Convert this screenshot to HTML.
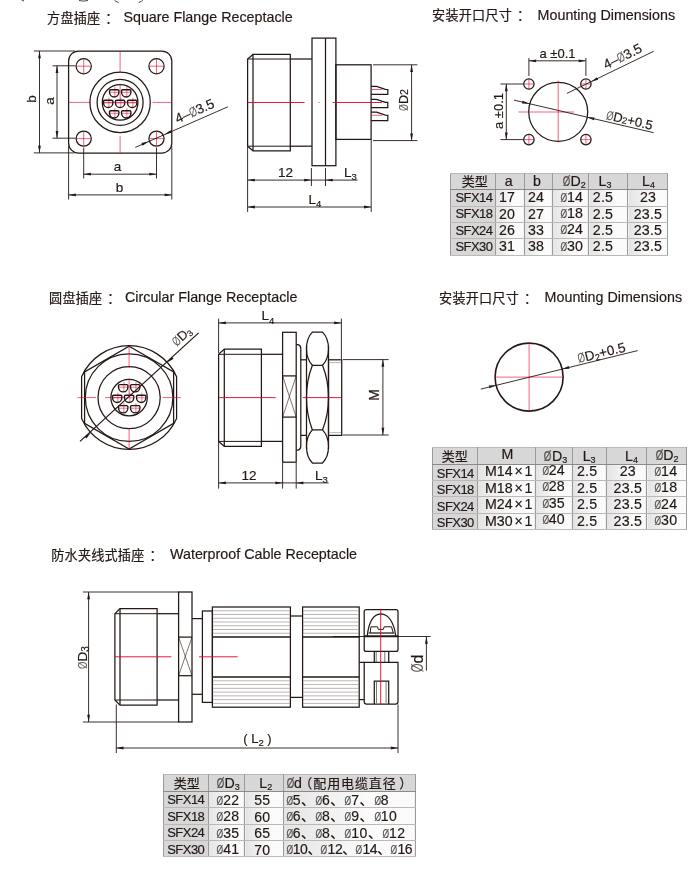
<!DOCTYPE html>
<html lang="zh"><head><meta charset="utf-8"><title>SFX Receptacle Dimensions</title>
<style>
html,body{margin:0;padding:0;background:#fff;}
body{width:700px;height:873px;position:relative;overflow:hidden;font-family:"Liberation Sans","Noto Sans CJK SC",sans-serif;color:#231815;}
svg{position:absolute;left:0;top:0;will-change:transform;}
.k{fill:none;stroke:#231815;stroke-width:1.25;}
.kp{fill:none;stroke:#231815;stroke-width:1.4;}
.k9{fill:none;stroke:#231815;stroke-width:1;}
.k2{fill:none;stroke:#231815;stroke-width:1.6;}
.k3{fill:none;stroke:#231815;stroke-width:2;}
.k15{fill:none;stroke:#231815;stroke-width:1.3;}
.kt{fill:none;stroke:#231815;stroke-width:.6;}
.t{fill:none;stroke:#231815;stroke-width:.9;}
.g{fill:none;stroke:#8a8583;stroke-width:.6;}
.r{fill:none;stroke:#e60026;stroke-width:.9;}
.rh{fill:none;stroke:#e6002d;stroke-width:.62;}
.rt{fill:none;stroke:#e6002d;stroke-width:.55;}
.a{fill:#231815;stroke:none;}
.tc{font-family:"Liberation Sans","Noto Sans CJK SC",sans-serif;fill:#231815;font-weight:400;stroke:#231815;stroke-width:.2;}
.fr{fill:none;stroke:#4a4644;stroke-width:1;}
.tx{font-family:"Liberation Sans","Noto Sans CJK SC",sans-serif;fill:#231815;font-weight:500;stroke:#231815;stroke-width:.18;}
.os{fill:#5a5553;stroke:none;}
.h{position:absolute;white-space:nowrap;font-size:13px;line-height:16px;color:#231815;}
.h .cn{font-size:13px;letter-spacing:.2px;}
.tb{will-change:transform;position:absolute;border-collapse:collapse;table-layout:fixed;font-size:13px;color:#231815;-webkit-text-stroke:.18px #231815;border:1px solid #7d7d7d;}
.tb th,.tb td{border:1px solid #9b9b9b;border-top-color:#b9b9b9;border-bottom-color:#b9b9b9;padding:0;text-align:center;font-weight:normal;line-height:14px;white-space:nowrap;overflow:visible;}
.tb tr:first-child th{border-bottom-color:#8a8a8a;font-size:14.2px;line-height:13px;}
.tb tr:first-child th.c0{font-size:13px;}
.tb td .o{font-size:12.5px;}
.tb th{background:#d7d7d7;}
.tb td{background:linear-gradient(90deg,#e4e4e4,#fbfbfb 65%);letter-spacing:.2px;font-size:14.2px;padding-bottom:1.6px;line-height:12px;}
.tb span{position:relative;}
.tb .c0{letter-spacing:-.55px;}
.tb tr:first-child .c0{letter-spacing:0;}
.tb sub{font-size:9px;vertical-align:-2px;line-height:0;}
.tb .o{display:inline-block;transform:scaleX(.68);color:#5a5553;margin:0 -1.6px;letter-spacing:0;}
.t2 td.c1{letter-spacing:0;word-spacing:-2.2px;}
.t3 .c3{text-align:left;padding-left:2.5px;letter-spacing:.5px;}
.t3 td{font-size:14px;}
.t3 th{font-size:13.5px;}
.t3 .c0{font-size:13px;}
.cj{letter-spacing:.9px;font-size:13px;margin-left:-3px;}
.cp{margin-left:2.5px;}
.t3 tr:last-child .c3{letter-spacing:-.4px;}
</style></head><body>
<svg width="700" height="873" viewBox="0 0 700 873">
<rect class="k" x="68.6" y="51" width="103.2" height="102.1" rx="10"/>
<circle class="k" cx="83.7" cy="66.2" r="7.6"/>
<line class="rh" x1="76.7" y1="66.2" x2="90.7" y2="66.2"/>
<line class="rh" x1="83.7" y1="59.2" x2="83.7" y2="73.2"/>
<circle class="k" cx="83.7" cy="138.6" r="7.6"/>
<line class="rh" x1="76.7" y1="138.6" x2="90.7" y2="138.6"/>
<line class="rh" x1="83.7" y1="131.6" x2="83.7" y2="145.6"/>
<circle class="k" cx="156.5" cy="66.2" r="7.6"/>
<line class="rh" x1="149.5" y1="66.2" x2="163.5" y2="66.2"/>
<line class="rh" x1="156.5" y1="59.2" x2="156.5" y2="73.2"/>
<circle class="k" cx="156.5" cy="138.6" r="7.6"/>
<line class="rh" x1="149.5" y1="138.6" x2="163.5" y2="138.6"/>
<line class="rh" x1="156.5" y1="131.6" x2="156.5" y2="145.6"/>
<circle class="k" cx="120.1" cy="102.4" r="30.2"/>
<circle class="k" cx="120.1" cy="102.4" r="23"/>
<circle class="k" cx="120.1" cy="102.4" r="17.8"/>
<line class="rh" x1="68.6" y1="102.4" x2="91" y2="102.4"/>
<line class="rh" x1="102.5" y1="102.4" x2="137.5" y2="102.4"/>
<line class="rh" x1="152.5" y1="102.4" x2="171.8" y2="102.4"/>
<line class="rh" x1="120.1" y1="51" x2="120.1" y2="73"/>
<line class="rh" x1="120.1" y1="85" x2="120.1" y2="100"/>
<line class="rh" x1="120.1" y1="136" x2="120.1" y2="152.9"/>
<g transform="translate(114.2 93)"><line class="rt" x1="0.7" y1="-5.88" x2="0.7" y2="3.76"/><line class="rt" x1="-4.46" y1="-0.7" x2="4.46" y2="-0.7"/><path class="kp" d="M-3.5,-3.29 L3.5,-3.29 Q4.7,-3.29 4.7,-2.09 L4.7,-0.94 A4.7,4.89 0 0 1 -4.7,-0.94 L-4.7,-2.09 Q-4.7,-3.29 -3.5,-3.29 Z"/></g>
<g transform="translate(126.2 93)"><line class="rt" x1="0.7" y1="-5.88" x2="0.7" y2="3.76"/><line class="rt" x1="-4.46" y1="-0.7" x2="4.46" y2="-0.7"/><path class="kp" d="M-3.5,-3.29 L3.5,-3.29 Q4.7,-3.29 4.7,-2.09 L4.7,-0.94 A4.7,4.89 0 0 1 -4.7,-0.94 L-4.7,-2.09 Q-4.7,-3.29 -3.5,-3.29 Z"/></g>
<g transform="translate(108.2 103.6)"><line class="rt" x1="0.7" y1="-5.88" x2="0.7" y2="3.76"/><line class="rt" x1="-4.46" y1="-0.7" x2="4.46" y2="-0.7"/><path class="kp" d="M-3.5,-3.29 L3.5,-3.29 Q4.7,-3.29 4.7,-2.09 L4.7,-0.94 A4.7,4.89 0 0 1 -4.7,-0.94 L-4.7,-2.09 Q-4.7,-3.29 -3.5,-3.29 Z"/></g>
<g transform="translate(120.1 103.6)"><line class="rt" x1="0.7" y1="-5.88" x2="0.7" y2="3.76"/><line class="rt" x1="-4.46" y1="-0.7" x2="4.46" y2="-0.7"/><path class="kp" d="M-3.5,-3.29 L3.5,-3.29 Q4.7,-3.29 4.7,-2.09 L4.7,-0.94 A4.7,4.89 0 0 1 -4.7,-0.94 L-4.7,-2.09 Q-4.7,-3.29 -3.5,-3.29 Z"/></g>
<g transform="translate(132.2 103.6)"><line class="rt" x1="0.7" y1="-5.88" x2="0.7" y2="3.76"/><line class="rt" x1="-4.46" y1="-0.7" x2="4.46" y2="-0.7"/><path class="kp" d="M-3.5,-3.29 L3.5,-3.29 Q4.7,-3.29 4.7,-2.09 L4.7,-0.94 A4.7,4.89 0 0 1 -4.7,-0.94 L-4.7,-2.09 Q-4.7,-3.29 -3.5,-3.29 Z"/></g>
<g transform="translate(114.2 114)"><line class="rt" x1="0.7" y1="-5.88" x2="0.7" y2="3.76"/><line class="rt" x1="-4.46" y1="-0.7" x2="4.46" y2="-0.7"/><path class="kp" d="M-3.5,-3.29 L3.5,-3.29 Q4.7,-3.29 4.7,-2.09 L4.7,-0.94 A4.7,4.89 0 0 1 -4.7,-0.94 L-4.7,-2.09 Q-4.7,-3.29 -3.5,-3.29 Z"/></g>
<g transform="translate(126.2 114)"><line class="rt" x1="0.7" y1="-5.88" x2="0.7" y2="3.76"/><line class="rt" x1="-4.46" y1="-0.7" x2="4.46" y2="-0.7"/><path class="kp" d="M-3.5,-3.29 L3.5,-3.29 Q4.7,-3.29 4.7,-2.09 L4.7,-0.94 A4.7,4.89 0 0 1 -4.7,-0.94 L-4.7,-2.09 Q-4.7,-3.29 -3.5,-3.29 Z"/></g>
<line class="t" x1="33.8" y1="51" x2="75" y2="51"/>
<line class="t" x1="33.8" y1="152.9" x2="75" y2="152.9"/>
<line class="t" x1="39.5" y1="51" x2="39.5" y2="152.9"/>
<polygon class="a" points="39.5,51 40.9,58.2 38.1,58.2"/>
<polygon class="a" points="39.5,152.9 38.1,145.7 40.9,145.7"/>
<line class="t" x1="52.5" y1="65.8" x2="75.5" y2="65.8"/>
<line class="t" x1="52.5" y1="138.2" x2="75.5" y2="138.2"/>
<line class="t" x1="57" y1="65.8" x2="57" y2="138.2"/>
<polygon class="a" points="57,65.8 58.4,73 55.6,73"/>
<polygon class="a" points="57,138.2 55.6,131 58.4,131"/>
<text class="tx" x="36" y="99" font-size="13.5" text-anchor="middle" transform="rotate(-90 36 99)">b</text>
<text class="tx" x="54" y="101" font-size="13.5" text-anchor="middle" transform="rotate(-90 54 101)">a</text>
<line class="t" x1="83.7" y1="147.5" x2="83.7" y2="178.5"/>
<line class="t" x1="156.5" y1="147.5" x2="156.5" y2="178.5"/>
<line class="t" x1="83.7" y1="174.2" x2="156.5" y2="174.2"/>
<polygon class="a" points="83.7,174.2 90.9,172.8 90.9,175.6"/>
<polygon class="a" points="156.5,174.2 149.3,175.6 149.3,172.8"/>
<line class="t" x1="68.6" y1="146" x2="68.6" y2="199.5"/>
<line class="t" x1="171.8" y1="146" x2="171.8" y2="199.5"/>
<line class="t" x1="68.6" y1="194.9" x2="171.8" y2="194.9"/>
<polygon class="a" points="68.6,194.9 75.8,193.5 75.8,196.3"/>
<polygon class="a" points="171.8,194.9 164.6,196.3 164.6,193.5"/>
<text class="tx" x="117.5" y="170.5" font-size="13.5" text-anchor="middle">a</text>
<text class="tx" x="119.5" y="191.5" font-size="13.5" text-anchor="middle">b</text>
<line class="t" x1="135.3" y1="147.4" x2="227.9" y2="106.8"/>
<polygon class="a" points="148.6,141.5 142.57,145.67 141.44,143.11"/>
<polygon class="a" points="164.4,134.4 170.43,130.23 171.56,132.79"/>
<text class="tx" x="196.5" y="115.3" font-size="13.5" text-anchor="middle" transform="rotate(-23.67 196.5 115.3)">4–<tspan class="os" textLength="7.43" lengthAdjust="spacingAndGlyphs">Ø</tspan>3.5</text>
<path class="k" d="M253,54.4 L290.3,54.4 L290.3,150.8 L253,150.8 L247.6,146.2 L247.6,59 Z"/>
<line class="k" x1="253" y1="54.4" x2="253" y2="150.8"/>
<line class="k9" x1="247.6" y1="59" x2="290.3" y2="59"/>
<line class="k9" x1="247.6" y1="146.2" x2="290.3" y2="146.2"/>
<line class="k" x1="290.3" y1="59" x2="312" y2="59"/>
<line class="k" x1="290.3" y1="146.2" x2="312" y2="146.2"/>
<rect class="k" x="312" y="38.1" width="23.9" height="127.6"/>
<line class="k" x1="325.5" y1="38.1" x2="325.5" y2="165.7"/>
<rect class="k" x="335.9" y="64.8" width="35.2" height="74.6"/>
<path class="k" d="M371.1,86.4 L376.6,86.4 L385.3,89.4 L387.8,89.5 L387.8,94.4 L371.1,94.4"/>
<line class="rh" x1="371.5" y1="89.5" x2="382" y2="89.5"/>
<path class="k" d="M371.1,99.3 L376.6,99.3 L385.3,102.3 L387.8,102.39999999999999 L387.8,107.6 L371.1,107.6"/>
<path class="k" d="M371.1,112.2 L376.6,112.2 L385.3,115.2 L387.8,115.3 L387.8,120.5 L371.1,120.5"/>
<line class="rh" x1="371.5" y1="115.3" x2="382" y2="115.3"/>
<line class="r" x1="247.6" y1="102.5" x2="304.6" y2="102.5"/>
<line class="r" x1="318.5" y1="102.5" x2="319.5" y2="102.5"/>
<line class="r" x1="332.6" y1="102.5" x2="382" y2="102.5"/>
<line class="t" x1="373" y1="64.8" x2="417.4" y2="64.8"/>
<line class="t" x1="373" y1="140.6" x2="417.4" y2="140.6"/>
<line class="t" x1="411.6" y1="64.8" x2="411.6" y2="140.6"/>
<polygon class="a" points="411.6,64.8 413,72 410.2,72"/>
<polygon class="a" points="411.6,140.6 410.2,133.4 413,133.4"/>
<text class="tx" x="408.3" y="100" font-size="12.5" text-anchor="middle" transform="rotate(-90 408.3 100)"><tspan class="os" textLength="6.88" lengthAdjust="spacingAndGlyphs">Ø</tspan>D<tspan font-size="10.5">2</tspan></text>
<line class="t" x1="247.6" y1="147" x2="247.6" y2="211.9"/>
<line class="t" x1="311.4" y1="168" x2="311.4" y2="186"/>
<line class="t" x1="325.5" y1="168" x2="325.5" y2="186"/>
<line class="t" x1="371.2" y1="140" x2="371.2" y2="211.9"/>
<line class="t" x1="247.6" y1="180.1" x2="311.4" y2="180.1"/>
<polygon class="a" points="247.6,180.1 254.8,178.7 254.8,181.5"/>
<polygon class="a" points="311.4,180.1 304.2,181.5 304.2,178.7"/>
<line class="t" x1="311.4" y1="180.1" x2="357.5" y2="180.1"/>
<polygon class="a" points="325.5,180.1 332.7,178.7 332.7,181.5"/>
<text class="tx" x="285.5" y="176.6" font-size="13.5" text-anchor="middle">12</text>
<text class="tx" x="344" y="176.6" font-size="13.5" text-anchor="start">L<tspan font-size="9.5" dy="3.3">3</tspan></text>
<line class="t" x1="247.6" y1="207" x2="371.2" y2="207"/>
<polygon class="a" points="247.6,207 254.8,205.6 254.8,208.4"/>
<polygon class="a" points="371.2,207 364,208.4 364,205.6"/>
<text class="tx" x="308.5" y="203.5" font-size="13.5" text-anchor="start">L<tspan font-size="9.5" dy="3.3">4</tspan></text>
<circle class="k" cx="558.2" cy="111.8" r="29.5"/>
<line class="rh" x1="558.2" y1="80.6" x2="558.2" y2="142.2"/>
<line class="rh" x1="518.5" y1="112" x2="574" y2="112"/>
<circle class="k" cx="528.9" cy="84" r="5.2"/>
<line class="rh" x1="523.9" y1="84" x2="533.9" y2="84"/>
<line class="rh" x1="528.9" y1="79" x2="528.9" y2="89"/>
<circle class="k" cx="528.9" cy="139.6" r="5.2"/>
<line class="rh" x1="523.9" y1="139.6" x2="533.9" y2="139.6"/>
<line class="rh" x1="528.9" y1="134.6" x2="528.9" y2="144.6"/>
<circle class="k" cx="585.9" cy="84" r="5.2"/>
<line class="rh" x1="580.9" y1="84" x2="590.9" y2="84"/>
<line class="rh" x1="585.9" y1="79" x2="585.9" y2="89"/>
<circle class="k" cx="585.9" cy="139.6" r="5.2"/>
<line class="rh" x1="580.9" y1="139.6" x2="590.9" y2="139.6"/>
<line class="rh" x1="585.9" y1="134.6" x2="585.9" y2="144.6"/>
<line class="t" x1="528.9" y1="58" x2="528.9" y2="76"/>
<line class="t" x1="585.9" y1="58" x2="585.9" y2="76"/>
<line class="t" x1="528.9" y1="60.8" x2="585.9" y2="60.8"/>
<polygon class="a" points="528.9,60.8 536.1,59.4 536.1,62.2"/>
<polygon class="a" points="585.9,60.8 578.7,62.2 578.7,59.4"/>
<text class="tx" x="557.5" y="58" font-size="13" text-anchor="middle">a ±0.1</text>
<line class="t" x1="500.4" y1="84" x2="523.5" y2="84"/>
<line class="t" x1="500.4" y1="139.6" x2="523.5" y2="139.6"/>
<line class="t" x1="506.3" y1="84" x2="506.3" y2="139.6"/>
<polygon class="a" points="506.3,84 507.7,91.2 504.9,91.2"/>
<polygon class="a" points="506.3,139.6 504.9,132.4 507.7,132.4"/>
<text class="tx" x="502.5" y="111" font-size="13" text-anchor="middle" transform="rotate(-90 502.5 111)">a ±0.1</text>
<line class="t" x1="566.9" y1="93.4" x2="653.7" y2="51.3"/>
<polygon class="a" points="591,81.7 596.87,77.3 598.09,79.82"/>
<text class="tx" x="624.5" y="60.5" font-size="13.5" text-anchor="middle" transform="rotate(-25.87 624.5 60.5)">4–<tspan class="os" textLength="7.43" lengthAdjust="spacingAndGlyphs">Ø</tspan>3.5</text>
<line class="t" x1="513.9" y1="100.1" x2="653.7" y2="132.7"/>
<polygon class="a" points="529.3,103.7 521.97,103.43 522.61,100.7"/>
<polygon class="a" points="587.2,117.2 594.53,117.47 593.89,120.2"/>
<text class="tx" x="628.5" y="124.5" font-size="13" text-anchor="middle" transform="rotate(13.13 628.5 124.5)"><tspan class="os" textLength="7.15" lengthAdjust="spacingAndGlyphs">Ø</tspan>D<tspan font-size="9">2</tspan>+0.5</text>
<path class="k" d="M81.6,376.69 A51.9,51.9 0 0 1 176.6,376.69 L176.6,418.51 A51.9,51.9 0 0 1 81.6,418.51 Z"/>
<polygon class="k" points="129.1,346.2 173.61,371.9 173.61,423.3 129.1,449 84.59,423.3 84.59,371.9"/>
<circle class="k" cx="129.1" cy="397.6" r="43.8"/>
<circle class="k" cx="129.1" cy="397.6" r="31.1"/>
<circle class="k" cx="129.1" cy="397.6" r="18.2"/>
<line class="rh" x1="129.1" y1="346.1" x2="129.1" y2="368"/>
<line class="rh" x1="129.1" y1="378.5" x2="129.1" y2="394.5"/>
<line class="rh" x1="129.1" y1="428" x2="129.1" y2="449"/>
<line class="rh" x1="77.5" y1="397.6" x2="96" y2="397.6"/>
<line class="rh" x1="105" y1="397.6" x2="124" y2="397.6"/>
<line class="rh" x1="162.5" y1="397.6" x2="181" y2="397.6"/>
<g transform="translate(123.2 387.9)"><line class="rt" x1="0.7" y1="-5.88" x2="0.7" y2="3.76"/><line class="rt" x1="-4.46" y1="-0.7" x2="4.46" y2="-0.7"/><path class="kp" d="M-3.5,-3.29 L3.5,-3.29 Q4.7,-3.29 4.7,-2.09 L4.7,-0.94 A4.7,4.89 0 0 1 -4.7,-0.94 L-4.7,-2.09 Q-4.7,-3.29 -3.5,-3.29 Z"/></g>
<g transform="translate(135.2 387.9)"><line class="rt" x1="0.7" y1="-5.88" x2="0.7" y2="3.76"/><line class="rt" x1="-4.46" y1="-0.7" x2="4.46" y2="-0.7"/><path class="kp" d="M-3.5,-3.29 L3.5,-3.29 Q4.7,-3.29 4.7,-2.09 L4.7,-0.94 A4.7,4.89 0 0 1 -4.7,-0.94 L-4.7,-2.09 Q-4.7,-3.29 -3.5,-3.29 Z"/></g>
<g transform="translate(117.2 398.5)"><line class="rt" x1="0.7" y1="-5.88" x2="0.7" y2="3.76"/><line class="rt" x1="-4.46" y1="-0.7" x2="4.46" y2="-0.7"/><path class="kp" d="M-3.5,-3.29 L3.5,-3.29 Q4.7,-3.29 4.7,-2.09 L4.7,-0.94 A4.7,4.89 0 0 1 -4.7,-0.94 L-4.7,-2.09 Q-4.7,-3.29 -3.5,-3.29 Z"/></g>
<g transform="translate(129.1 398.5)"><line class="rt" x1="0.7" y1="-5.88" x2="0.7" y2="3.76"/><line class="rt" x1="-4.46" y1="-0.7" x2="4.46" y2="-0.7"/><path class="kp" d="M-3.5,-3.29 L3.5,-3.29 Q4.7,-3.29 4.7,-2.09 L4.7,-0.94 A4.7,4.89 0 0 1 -4.7,-0.94 L-4.7,-2.09 Q-4.7,-3.29 -3.5,-3.29 Z"/></g>
<g transform="translate(141.2 398.5)"><line class="rt" x1="0.7" y1="-5.88" x2="0.7" y2="3.76"/><line class="rt" x1="-4.46" y1="-0.7" x2="4.46" y2="-0.7"/><path class="kp" d="M-3.5,-3.29 L3.5,-3.29 Q4.7,-3.29 4.7,-2.09 L4.7,-0.94 A4.7,4.89 0 0 1 -4.7,-0.94 L-4.7,-2.09 Q-4.7,-3.29 -3.5,-3.29 Z"/></g>
<g transform="translate(123.2 408.9)"><line class="rt" x1="0.7" y1="-5.88" x2="0.7" y2="3.76"/><line class="rt" x1="-4.46" y1="-0.7" x2="4.46" y2="-0.7"/><path class="kp" d="M-3.5,-3.29 L3.5,-3.29 Q4.7,-3.29 4.7,-2.09 L4.7,-0.94 A4.7,4.89 0 0 1 -4.7,-0.94 L-4.7,-2.09 Q-4.7,-3.29 -3.5,-3.29 Z"/></g>
<g transform="translate(135.2 408.9)"><line class="rt" x1="0.7" y1="-5.88" x2="0.7" y2="3.76"/><line class="rt" x1="-4.46" y1="-0.7" x2="4.46" y2="-0.7"/><path class="kp" d="M-3.5,-3.29 L3.5,-3.29 Q4.7,-3.29 4.7,-2.09 L4.7,-0.94 A4.7,4.89 0 0 1 -4.7,-0.94 L-4.7,-2.09 Q-4.7,-3.29 -3.5,-3.29 Z"/></g>
<line class="k" x1="80" y1="441.4" x2="198.6" y2="332.9"/>
<polygon class="a" points="167.39,362.57 171.76,356.68 173.65,358.74"/>
<polygon class="a" points="90.81,432.63 86.44,438.52 84.55,436.46"/>
<text class="tx" x="184.5" y="339.5" font-size="13" text-anchor="middle" transform="rotate(-42.45 184.5 339.5)"><tspan class="os" textLength="7.15" lengthAdjust="spacingAndGlyphs">Ø</tspan>D<tspan font-size="8.5" dy="2">3</tspan></text>
<path class="k" d="M224.3,349.1 L261.4,349.1 L261.4,446.3 L224.3,446.3 L218.6,441.4 L218.6,354.3 Z"/>
<line class="k" x1="224.3" y1="349.1" x2="224.3" y2="446.3"/>
<line class="k9" x1="218.6" y1="354.3" x2="261.4" y2="354.3"/>
<line class="k9" x1="218.6" y1="441.4" x2="261.4" y2="441.4"/>
<line class="k" x1="261.4" y1="354.3" x2="282.6" y2="354.3"/>
<line class="k" x1="261.4" y1="441.4" x2="282.6" y2="441.4"/>
<rect class="k" x="282.6" y="332.3" width="13.6" height="129.9"/>
<line class="k" x1="282.6" y1="375.9" x2="296.2" y2="375.9"/>
<line class="k" x1="282.6" y1="417.1" x2="296.2" y2="417.1"/>
<line class="kt" x1="282.6" y1="375.9" x2="296.2" y2="417.1"/>
<line class="kt" x1="296.2" y1="375.9" x2="282.6" y2="417.1"/>
<path class="k" d="M296.2,344.7 L298.3,344.7 Q300.8,345.5 300.8,349 L300.8,446 Q300.8,449.3 298.3,450.1 L296.2,450.1"/>
<line class="k" x1="300.8" y1="359.8" x2="306.5" y2="359.8"/>
<line class="k" x1="300.8" y1="435.4" x2="306.5" y2="435.4"/>
<line class="k" x1="306.5" y1="346" x2="306.5" y2="449.2"/>
<line class="k" x1="328.5" y1="346" x2="328.5" y2="449.2"/>
<path class="k" d="M312.4,332.1 C308.4,336.084 306.5,342.06 306.5,348.70000000000005 C306.5,355.34000000000003 309.2,361.98 312.4,365.3 L322.5,365.3 C325.7,361.98 328.5,355.34000000000003 328.5,348.70000000000005 C328.5,342.06 326.5,336.084 322.5,332.1 Z"/>
<path class="k" d="M312.4,463.0 C308.4,459.028 306.5,453.07 306.5,446.45000000000005 C306.5,439.83000000000004 309.2,433.21000000000004 312.4,429.90000000000003 L322.5,429.90000000000003 C325.7,433.21000000000004 328.5,439.83000000000004 328.5,446.45000000000005 C328.5,453.07 326.5,459.028 322.5,463.0 Z"/>
<path class="k" d="M312.4,365.3 C308.79999999999995,374.3 306.5,385.6 306.5,397.6 C306.5,409.6 308.79999999999995,420.90000000000003 312.4,429.90000000000003"/>
<path class="k" d="M322.5,365.3 C326.1,374.3 328.5,385.6 328.5,397.6 C328.5,409.6 326.1,420.90000000000003 322.5,429.90000000000003"/>
<rect class="k" x="328.5" y="359.8" width="13.2" height="75.6"/>
<line class="g" x1="329.6" y1="362.6" x2="340.8" y2="362.6"/>
<line class="g" x1="329.6" y1="432.6" x2="340.8" y2="432.6"/>
<line class="r" x1="218.6" y1="397.6" x2="275.7" y2="397.6"/>
<line class="r" x1="302.9" y1="397.6" x2="341.4" y2="397.6"/>
<line class="t" x1="218.6" y1="318.6" x2="218.6" y2="353"/>
<line class="t" x1="341.4" y1="318.6" x2="341.4" y2="359.4"/>
<line class="t" x1="218.6" y1="322.9" x2="341.4" y2="322.9"/>
<polygon class="a" points="218.6,322.9 225.8,321.5 225.8,324.3"/>
<polygon class="a" points="341.4,322.9 334.2,324.3 334.2,321.5"/>
<text class="tx" x="261.5" y="320.3" font-size="13.5" text-anchor="start">L<tspan font-size="9.5" dy="3.3">4</tspan></text>
<line class="t" x1="342.9" y1="359.6" x2="388.6" y2="359.6"/>
<line class="t" x1="342.9" y1="435" x2="388.6" y2="435"/>
<line class="t" x1="382.9" y1="359.6" x2="382.9" y2="435"/>
<polygon class="a" points="382.9,359.6 384.3,366.8 381.5,366.8"/>
<polygon class="a" points="382.9,435 381.5,427.8 384.3,427.8"/>
<text class="tx" x="379" y="394.8" font-size="14" text-anchor="middle" transform="rotate(-90 379 394.8)">M</text>
<line class="t" x1="218.6" y1="442" x2="218.6" y2="488.6"/>
<line class="t" x1="282.6" y1="463" x2="282.6" y2="488.6"/>
<line class="t" x1="296.2" y1="463" x2="296.2" y2="488.6"/>
<line class="t" x1="218.6" y1="482.9" x2="282.6" y2="482.9"/>
<polygon class="a" points="218.6,482.9 225.8,481.5 225.8,484.3"/>
<polygon class="a" points="282.6,482.9 275.4,484.3 275.4,481.5"/>
<line class="t" x1="282.6" y1="482.9" x2="328.6" y2="482.9"/>
<polygon class="a" points="296.2,482.9 303.4,481.5 303.4,484.3"/>
<text class="tx" x="249" y="479.5" font-size="13.5" text-anchor="middle">12</text>
<text class="tx" x="315" y="479.5" font-size="13.5" text-anchor="start">L<tspan font-size="9.5" dy="3.3">3</tspan></text>
<circle class="k2" cx="529.1" cy="377.1" r="34"/>
<line class="rh" x1="529.1" y1="343.1" x2="529.1" y2="411.1"/>
<line class="rh" x1="495.1" y1="377.1" x2="563.1" y2="377.1"/>
<line class="t" x1="480.8" y1="389.1" x2="637.7" y2="350.6"/>
<polygon class="a" points="496.08,385.2 489.42,388.28 488.75,385.56"/>
<polygon class="a" points="562.12,369 568.78,365.92 569.45,368.64"/>
<text class="tx" x="602.5" y="357.2" font-size="13.5" text-anchor="middle" transform="rotate(-13.79 602.5 357.2)"><tspan class="os" textLength="7.43" lengthAdjust="spacingAndGlyphs">Ø</tspan>D<tspan font-size="9" dy="2">2</tspan><tspan dy="-2">+0.5</tspan></text>
<line class="t" x1="82.9" y1="592" x2="178.6" y2="592"/>
<line class="t" x1="82.9" y1="722" x2="178.6" y2="722"/>
<line class="t" x1="88.6" y1="592" x2="88.6" y2="722"/>
<polygon class="a" points="88.6,592 90,599.2 87.2,599.2"/>
<polygon class="a" points="88.6,722 87.2,714.8 90,714.8"/>
<text class="tx" x="86.6" y="657.5" font-size="13.5" text-anchor="middle" transform="rotate(-90 86.6 657.5)"><tspan class="os" textLength="7.43" lengthAdjust="spacingAndGlyphs">Ø</tspan>D<tspan font-size="10" dy="2.6">3</tspan></text>
<path class="k" d="M120,608.6 L157.1,608.6 L157.1,705.1 L120,705.1 L114.9,700 L114.9,613.7 Z"/>
<line class="k" x1="120" y1="608.6" x2="120" y2="705.1"/>
<line class="k9" x1="114.9" y1="613.7" x2="157.1" y2="613.7"/>
<line class="k9" x1="114.9" y1="700" x2="157.1" y2="700"/>
<line class="k" x1="157.1" y1="613.7" x2="178.6" y2="613.7"/>
<line class="k" x1="157.1" y1="700" x2="178.6" y2="700"/>
<rect class="k" x="178.6" y="592" width="13.4" height="130"/>
<line class="k" x1="178.6" y1="637.1" x2="192" y2="637.1"/>
<line class="k" x1="178.6" y1="675.7" x2="192" y2="675.7"/>
<line class="kt" x1="178.6" y1="637.1" x2="192" y2="675.7"/>
<line class="kt" x1="192" y1="637.1" x2="178.6" y2="675.7"/>
<line class="k" x1="192" y1="618.6" x2="202.4" y2="618.6"/>
<line class="k" x1="192" y1="694.3" x2="202.4" y2="694.3"/>
<rect class="k" x="202.4" y="611" width="10" height="91.4"/>
<rect class="k" x="212.4" y="607" width="78" height="100.2"/>
<line class="k15" x1="212.4" y1="637" x2="290.4" y2="637"/>
<line class="k15" x1="212.4" y1="677" x2="290.4" y2="677"/>
<line class="g" x1="212.9" y1="610.75" x2="289.9" y2="610.75"/>
<line class="g" x1="212.9" y1="680.77" x2="289.9" y2="680.77"/>
<line class="g" x1="212.9" y1="614.5" x2="289.9" y2="614.5"/>
<line class="g" x1="212.9" y1="684.55" x2="289.9" y2="684.55"/>
<line class="g" x1="212.9" y1="618.25" x2="289.9" y2="618.25"/>
<line class="g" x1="212.9" y1="688.33" x2="289.9" y2="688.33"/>
<line class="g" x1="212.9" y1="622" x2="289.9" y2="622"/>
<line class="g" x1="212.9" y1="692.1" x2="289.9" y2="692.1"/>
<line class="g" x1="212.9" y1="625.75" x2="289.9" y2="625.75"/>
<line class="g" x1="212.9" y1="695.88" x2="289.9" y2="695.88"/>
<line class="g" x1="212.9" y1="629.5" x2="289.9" y2="629.5"/>
<line class="g" x1="212.9" y1="699.65" x2="289.9" y2="699.65"/>
<line class="g" x1="212.9" y1="633.25" x2="289.9" y2="633.25"/>
<line class="g" x1="212.9" y1="703.42" x2="289.9" y2="703.42"/>
<line class="k" x1="290.4" y1="616" x2="302.6" y2="616"/>
<line class="k" x1="290.4" y1="697.4" x2="302.6" y2="697.4"/>
<rect class="k" x="302.6" y="607" width="56.6" height="100.2"/>
<line class="k15" x1="302.6" y1="637" x2="359.2" y2="637"/>
<line class="k15" x1="302.6" y1="677" x2="359.2" y2="677"/>
<line class="g" x1="303.1" y1="610.75" x2="358.7" y2="610.75"/>
<line class="g" x1="303.1" y1="680.77" x2="358.7" y2="680.77"/>
<line class="g" x1="303.1" y1="614.5" x2="358.7" y2="614.5"/>
<line class="g" x1="303.1" y1="684.55" x2="358.7" y2="684.55"/>
<line class="g" x1="303.1" y1="618.25" x2="358.7" y2="618.25"/>
<line class="g" x1="303.1" y1="688.33" x2="358.7" y2="688.33"/>
<line class="g" x1="303.1" y1="622" x2="358.7" y2="622"/>
<line class="g" x1="303.1" y1="692.1" x2="358.7" y2="692.1"/>
<line class="g" x1="303.1" y1="625.75" x2="358.7" y2="625.75"/>
<line class="g" x1="303.1" y1="695.88" x2="358.7" y2="695.88"/>
<line class="g" x1="303.1" y1="629.5" x2="358.7" y2="629.5"/>
<line class="g" x1="303.1" y1="699.65" x2="358.7" y2="699.65"/>
<line class="g" x1="303.1" y1="633.25" x2="358.7" y2="633.25"/>
<line class="g" x1="303.1" y1="703.42" x2="358.7" y2="703.42"/>
<line class="r" x1="114.9" y1="656.8" x2="171.4" y2="656.8"/>
<line class="r" x1="199.1" y1="656.8" x2="237.7" y2="656.8"/>
<rect class="k" x="364.2" y="609.6" width="33.8" height="41.8" rx="2"/>
<line class="t" x1="332.9" y1="636.5" x2="430.6" y2="636.5"/>
<line class="k3" x1="364.2" y1="636.3" x2="398" y2="636.3"/>
<path class="k" d="M367.2,636.5 C368.6,622.5 373.6,614.1 381,613.9 C388.4,614.1 394.2,622.5 395.8,636.5"/>
<line class="k" x1="368.7" y1="633" x2="394.3" y2="633"/>
<path class="k9" d="M370.2,632.8 L370.9,626.8 L377.6,626.8 L378.3,629.4 L383.4,629.4 L384.1,626.8 L391.5,626.8 L393.2,632.8"/>
<line class="k" x1="374.3" y1="651.4" x2="374.3" y2="662.4"/>
<line class="k" x1="388.7" y1="651.4" x2="388.7" y2="662.4"/>
<line class="kt" x1="376.2" y1="651.4" x2="376.2" y2="662.4"/>
<line class="kt" x1="384.8" y1="651.4" x2="384.8" y2="662.4"/>
<path class="k" d="M364.2,662.4 L398,662.4 L398,701.5 Q398,704.1 395.5,704.1 L366.7,704.1 Q364.2,704.1 364.2,701.5 Z"/>
<line class="k" x1="359.2" y1="662.4" x2="364.2" y2="662.4"/>
<line class="k" x1="359.2" y1="699.6" x2="364.2" y2="699.6"/>
<path class="k" d="M374.3,704.1 L374.3,681 L388.7,681 L388.7,704.1"/>
<line class="kt" x1="376.5" y1="682" x2="376.5" y2="703"/>
<line class="kt" x1="386.1" y1="682" x2="386.1" y2="703"/>
<line class="r" x1="380.7" y1="608.9" x2="380.7" y2="704.6"/>
<line class="t" x1="426.4" y1="636.5" x2="426.4" y2="670.7"/>
<polygon class="a" points="426.4,636.5 427.8,643.7 425,643.7"/>
<text class="tx" x="423" y="663.5" font-size="16" text-anchor="middle" transform="rotate(-90 423 663.5)"><tspan class="os" textLength="8.8" lengthAdjust="spacingAndGlyphs">Ø</tspan>d</text>
<line class="t" x1="116.3" y1="704.5" x2="116.3" y2="753"/>
<line class="t" x1="398" y1="704.5" x2="398" y2="753"/>
<line class="t" x1="116.3" y1="748" x2="398" y2="748"/>
<polygon class="a" points="116.3,748 123.5,746.6 123.5,749.4"/>
<polygon class="a" points="398,748 390.8,749.4 390.8,746.6"/>
<text class="tx" x="257.5" y="742.8" font-size="13" text-anchor="middle">( L<tspan font-size="9.5" dy="3.3">2</tspan><tspan dy="-3.3"> )</tspan></text>
<text class="tc" x="47.1" y="23" font-size="13.1" letter-spacing="0.22">方盘插座<tspan dx="5">：</tspan></text>
<text class="tx" x="123.4" y="22.4" font-size="14.3">Square Flange Receptacle</text>
<text class="tc" x="432.1" y="20.3" font-size="13.1" letter-spacing="0.22">安装开口尺寸<tspan dx="5">：</tspan></text>
<text class="tx" x="537.6" y="19.7" font-size="14.3">Mounting Dimensions</text>
<text class="tc" x="49.1" y="302.7" font-size="13.1" letter-spacing="0.22">圆盘插座<tspan dx="5">：</tspan></text>
<text class="tx" x="125" y="302.1" font-size="14.3">Circular Flange Receptacle</text>
<text class="tc" x="439.1" y="302.6" font-size="13.1" letter-spacing="0.22">安装开口尺寸<tspan dx="5">：</tspan></text>
<text class="tx" x="544.6" y="302" font-size="14.3">Mounting Dimensions</text>
<text class="tc" x="51.3" y="560" font-size="13.1" letter-spacing="0.22">防水夹线式插座<tspan dx="5">：</tspan></text>
<text class="tx" x="170" y="559.4" font-size="14.3">Waterproof Cable Receptacle</text>
<path class="fr" d="M21.5,0 L24,1"/>
<path class="fr" d="M79,0.5 Q83,1.7 88,0.5"/>
<path class="fr" d="M114.2,-0.3 Q115.5,1.8 118.6,2.5"/>
<path class="fr" d="M143.1,-0.3 Q141.8,1.8 138.7,2.5"/>
</svg>
<table class="tb t1" style="left:449.7px;top:172.8px;width:217px"><colgroup><col style="width:44.5px"><col style="width:29px"><col style="width:28px"><col style="width:36.5px"><col style="width:39px"><col style="width:40px"></colgroup><tr style="height:16.4px"><th class="c0"><span style="left:2px;top:0px">类型</span></th><th class="c1"><span style="left:-0.7px;top:0px">a</span></th><th class="c2"><span style="left:-1px;top:0px">b</span></th><th class="c3"><span style="left:4px;top:0px"><span class="o">Ø</span>D<sub>2</sub></span></th><th class="c4"><span style="left:-3px;top:0px">L<sub>3</sub></span></th><th class="c5"><span style="left:1px;top:0px">L<sub>4</sub></span></th></tr><tr style="height:16.35px"><th class="c0"><span style="left:1.2px;top:0px">SFX14</span></th><td class="c1"><span style="left:-2.5px;top:0px">17</span></td><td class="c2"><span style="left:-2px;top:0px">24</span></td><td class="c3"><span style="left:1.5px;top:0px"><span class="o">Ø</span>14</span></td><td class="c4"><span style="left:-5px;top:0px">2.5</span></td><td class="c5"><span style="left:0.5px;top:0px">23</span></td></tr><tr style="height:16.35px"><th class="c0"><span style="left:1.2px;top:0px">SFX18</span></th><td class="c1"><span style="left:-2.5px;top:0px">20</span></td><td class="c2"><span style="left:-2px;top:0px">27</span></td><td class="c3"><span style="left:1.5px;top:0px"><span class="o">Ø</span>18</span></td><td class="c4"><span style="left:-5px;top:0px">2.5</span></td><td class="c5"><span style="left:0.5px;top:0px">23.5</span></td></tr><tr style="height:16.35px"><th class="c0"><span style="left:1.2px;top:0px">SFX24</span></th><td class="c1"><span style="left:-2.5px;top:0px">26</span></td><td class="c2"><span style="left:-2px;top:0px">33</span></td><td class="c3"><span style="left:1.5px;top:0px"><span class="o">Ø</span>24</span></td><td class="c4"><span style="left:-5px;top:0px">2.5</span></td><td class="c5"><span style="left:0.5px;top:0px">23.5</span></td></tr><tr style="height:16.35px"><th class="c0"><span style="left:1.2px;top:0px">SFX30</span></th><td class="c1"><span style="left:-2.5px;top:0px">31</span></td><td class="c2"><span style="left:-2px;top:0px">38</span></td><td class="c3"><span style="left:1.5px;top:0px"><span class="o">Ø</span>30</span></td><td class="c4"><span style="left:-5px;top:0px">2.5</span></td><td class="c5"><span style="left:0.5px;top:0px">23.5</span></td></tr></table>
<table class="tb t2" style="left:431.5px;top:446.5px;width:254.4px"><colgroup><col style="width:44.6px"><col style="width:58px"><col style="width:37px"><col style="width:34px"><col style="width:40.8px"><col style="width:40px"></colgroup><tr style="height:16.6px"><th class="c0"><span style="left:0px;top:0.5px">类型</span></th><th class="c1"><span style="left:1.4px;top:-1px">M</span></th><th class="c2"><span style="left:2px;top:0.5px"><span class="o">Ø</span>D<sub>3</sub></span></th><th class="c3"><span style="left:0px;top:0.5px">L<sub>3</sub></span></th><th class="c4"><span style="left:5px;top:0.5px">L<sub>4</sub></span></th><th class="c5"><span><span class="o">Ø</span>D<sub>2</sub></span></th></tr><tr style="height:16.35px"><th class="c0"><span style="left:0.5px;top:1.7px">SFX14</span></th><td class="c1"><span style="left:2.6px;top:0px">M14 × 1</span></td><td class="c2"><span style="left:0px;top:-1px"><span class="o">Ø</span>24</span></td><td class="c3"><span style="left:-2px;top:0px">2.5</span></td><td class="c4"><span style="left:1.3px;top:0px">23</span></td><td class="c5"><span style="left:-1px;top:0px"><span class="o">Ø</span>14</span></td></tr><tr style="height:16.35px"><th class="c0"><span style="left:0.5px;top:1.7px">SFX18</span></th><td class="c1"><span style="left:2.6px;top:0px">M18 × 1</span></td><td class="c2"><span style="left:0px;top:-1px"><span class="o">Ø</span>28</span></td><td class="c3"><span style="left:-2px;top:0px">2.5</span></td><td class="c4"><span style="left:1.3px;top:0px">23.5</span></td><td class="c5"><span style="left:-1px;top:0px"><span class="o">Ø</span>18</span></td></tr><tr style="height:16.35px"><th class="c0"><span style="left:0.5px;top:1.7px">SFX24</span></th><td class="c1"><span style="left:2.6px;top:0px">M24 × 1</span></td><td class="c2"><span style="left:0px;top:-1px"><span class="o">Ø</span>35</span></td><td class="c3"><span style="left:-2px;top:0px">2.5</span></td><td class="c4"><span style="left:1.3px;top:0px">23.5</span></td><td class="c5"><span style="left:-1px;top:0px"><span class="o">Ø</span>24</span></td></tr><tr style="height:16.35px"><th class="c0"><span style="left:0.5px;top:1.7px">SFX30</span></th><td class="c1"><span style="left:2.6px;top:0px">M30 × 1</span></td><td class="c2"><span style="left:0px;top:-1px"><span class="o">Ø</span>40</span></td><td class="c3"><span style="left:-2px;top:0px">2.5</span></td><td class="c4"><span style="left:1.3px;top:0px">23.5</span></td><td class="c5"><span style="left:-1px;top:0px"><span class="o">Ø</span>30</span></td></tr></table>
<table class="tb t3" style="left:162.7px;top:774px;width:251.6px"><colgroup><col style="width:44.5px"><col style="width:36.5px"><col style="width:38.6px"><col style="width:132px"></colgroup><tr style="height:16.7px"><th class="c0"><span style="left:1px;top:0.6px">类型</span></th><th class="c1"><span style="left:2px;top:0.6px"><span class="o">Ø</span>D<sub>3</sub></span></th><th class="c2"><span style="left:2px;top:0.6px">L<sub>2</sub></span></th><th class="c3"><span style="left:0px;top:0.6px"><span class="o">Ø</span>d<span class="cj">（配用电缆直径<span class="cp">）</span></span></span></th></tr><tr style="height:16.45px"><th class="c0"><span style="left:0px;top:1px">SFX14</span></th><td class="c1"><span style="left:1.8px;top:1.6px"><span class="o">Ø</span>22</span></td><td class="c2"><span style="left:-1.6px;top:1.6px">55</span></td><td class="c3"><span style="left:0px;top:1.6px"><span class="o">Ø</span>5、<span class="o">Ø</span>6、<span class="o">Ø</span>7、<span class="o">Ø</span>8</span></td></tr><tr style="height:16.45px"><th class="c0"><span style="left:0px;top:1px">SFX18</span></th><td class="c1"><span style="left:1.8px;top:1.6px"><span class="o">Ø</span>28</span></td><td class="c2"><span style="left:-1.6px;top:1.6px">60</span></td><td class="c3"><span style="left:0px;top:1.6px"><span class="o">Ø</span>6、<span class="o">Ø</span>8、<span class="o">Ø</span>9、<span class="o">Ø</span>10</span></td></tr><tr style="height:16.45px"><th class="c0"><span style="left:0px;top:1px">SFX24</span></th><td class="c1"><span style="left:1.8px;top:1.6px"><span class="o">Ø</span>35</span></td><td class="c2"><span style="left:-1.6px;top:1.6px">65</span></td><td class="c3"><span style="left:0px;top:1.6px"><span class="o">Ø</span>6、<span class="o">Ø</span>8、<span class="o">Ø</span>10、<span class="o">Ø</span>12</span></td></tr><tr style="height:16.45px"><th class="c0"><span style="left:0px;top:1px">SFX30</span></th><td class="c1"><span style="left:1.8px;top:1.6px"><span class="o">Ø</span>41</span></td><td class="c2"><span style="left:-1.6px;top:1.6px">70</span></td><td class="c3"><span style="left:0px;top:1.6px"><span class="o">Ø</span>10、<span class="o">Ø</span>12、<span class="o">Ø</span>14、<span class="o">Ø</span>16</span></td></tr></table>
</body></html>
